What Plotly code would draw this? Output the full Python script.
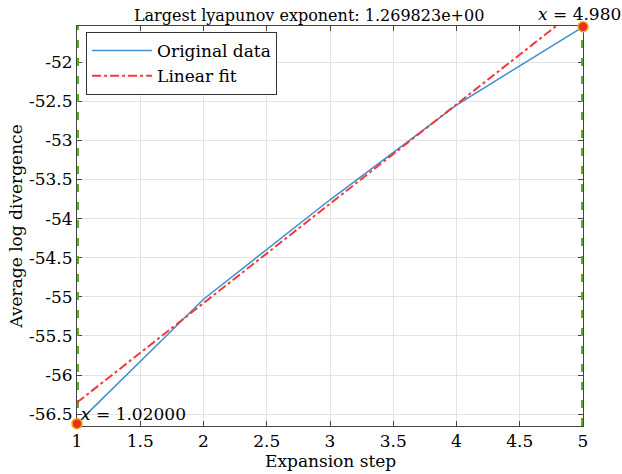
import plotly.graph_objects as go

# Data
steps = [1, 2, 3, 4, 5]
avg_log_div = [-56.62, -55.03, -53.76, -52.55, -51.55]
fit_slope = 1.269823
fit_intercept = -57.62
cursor_y = [-56.62, -51.55]
cursor_labels = ["<i>x</i> = 1.02000", "<i>x</i> = 4.980"]
bound_x = [1, 5]
x_ticks = [1, 1.5, 2, 2.5, 3, 3.5, 4, 4.5, 5]
y_ticks = [-52, -52.5, -53, -53.5, -54, -54.5, -55, -55.5, -56, -56.5]
y_range = [-56.65, -51.54]

FONT = "DejaVu Serif"
FS = 17

fit_x = [steps[0], steps[-1]]
fit_y = [fit_slope * v + fit_intercept for v in fit_x]

fig = go.Figure()
for bx in bound_x:
    fig.add_trace(go.Scatter(x=[bx, bx], y=y_range, mode="lines",
                             line=dict(color="#5AAE1E", width=4, dash="8px,10px"),
                             showlegend=False, hoverinfo="skip", cliponaxis=False))
fig.add_trace(go.Scatter(x=steps, y=avg_log_div, mode="lines", name="Original data",
                         line=dict(color="#3D8FD0", width=1.5)))
fig.add_trace(go.Scatter(x=fit_x, y=fit_y, mode="lines", name="Linear fit",
                         line=dict(color="#F23A3A", width=2, dash="dashdot")))
fig.add_trace(go.Scatter(x=[steps[0], steps[-1]], y=cursor_y, mode="markers",
                         marker=dict(color="#E8321E", size=10,
                                     line=dict(color="#F2A81D", width=1.5)),
                         showlegend=False, cliponaxis=False))

fig.add_annotation(x=steps[0], y=cursor_y[0], text=cursor_labels[0], showarrow=False,
                   xanchor="left", yanchor="bottom", xshift=2, yshift=-2,
                   font=dict(family=FONT, size=FS, color="black"))
fig.add_annotation(x=steps[-1], y=cursor_y[1], text=cursor_labels[1], showarrow=False,
                   xanchor="center", yanchor="bottom", xshift=-4, yshift=1,
                   font=dict(family=FONT, size=FS, color="black"))
fig.add_annotation(x=0.5, y=0, xref="paper", yref="paper", text="Expansion step",
                   showarrow=False, xanchor="center", yanchor="top", yshift=-23,
                   font=dict(family=FONT, size=FS, color="black"))

fig.update_layout(
    width=622, height=474,
    margin=dict(l=77, r=39, t=26, b=48),
    paper_bgcolor="white", plot_bgcolor="white",
    font=dict(family=FONT, size=FS, color="black"),
    title=dict(text="Largest lyapunov exponent: 1.269823e+00", x=0.497, xanchor="center",
               yref="container", y=0.968, yanchor="middle",
               font=dict(family=FONT, size=16, color="black")),
    legend=dict(x=0.018, y=0.985, xanchor="left", yanchor="top",
                bgcolor="white", bordercolor="#333333", borderwidth=1,
                itemwidth=60,
                font=dict(family=FONT, size=FS), tracegroupgap=0),
    showlegend=True,
)
fig.update_xaxes(range=[1, 5], tickvals=x_ticks, ticktext=[f"{v:g}" for v in x_ticks],
                 ticks="inside", ticklen=5, tickcolor="#444", showgrid=True, gridcolor="#E3E3E3",
                 showline=True, linecolor="#444", linewidth=1, mirror="ticks", zeroline=False,
                 layer="below traces",
                 tickfont=dict(family=FONT, size=FS))
fig.update_yaxes(range=y_range, tickvals=y_ticks, ticktext=[f"{v:g}" for v in y_ticks],
                 ticks="inside", ticklen=5, tickcolor="#444", showgrid=True, gridcolor="#E3E3E3",
                 showline=True, linecolor="#444", linewidth=1, mirror="ticks", zeroline=False,
                 layer="below traces",
                 title=dict(text="Average log divergence", standoff=2, font=dict(family=FONT, size=FS)),
                 tickfont=dict(family=FONT, size=FS))

fig.write_html("out.html")
